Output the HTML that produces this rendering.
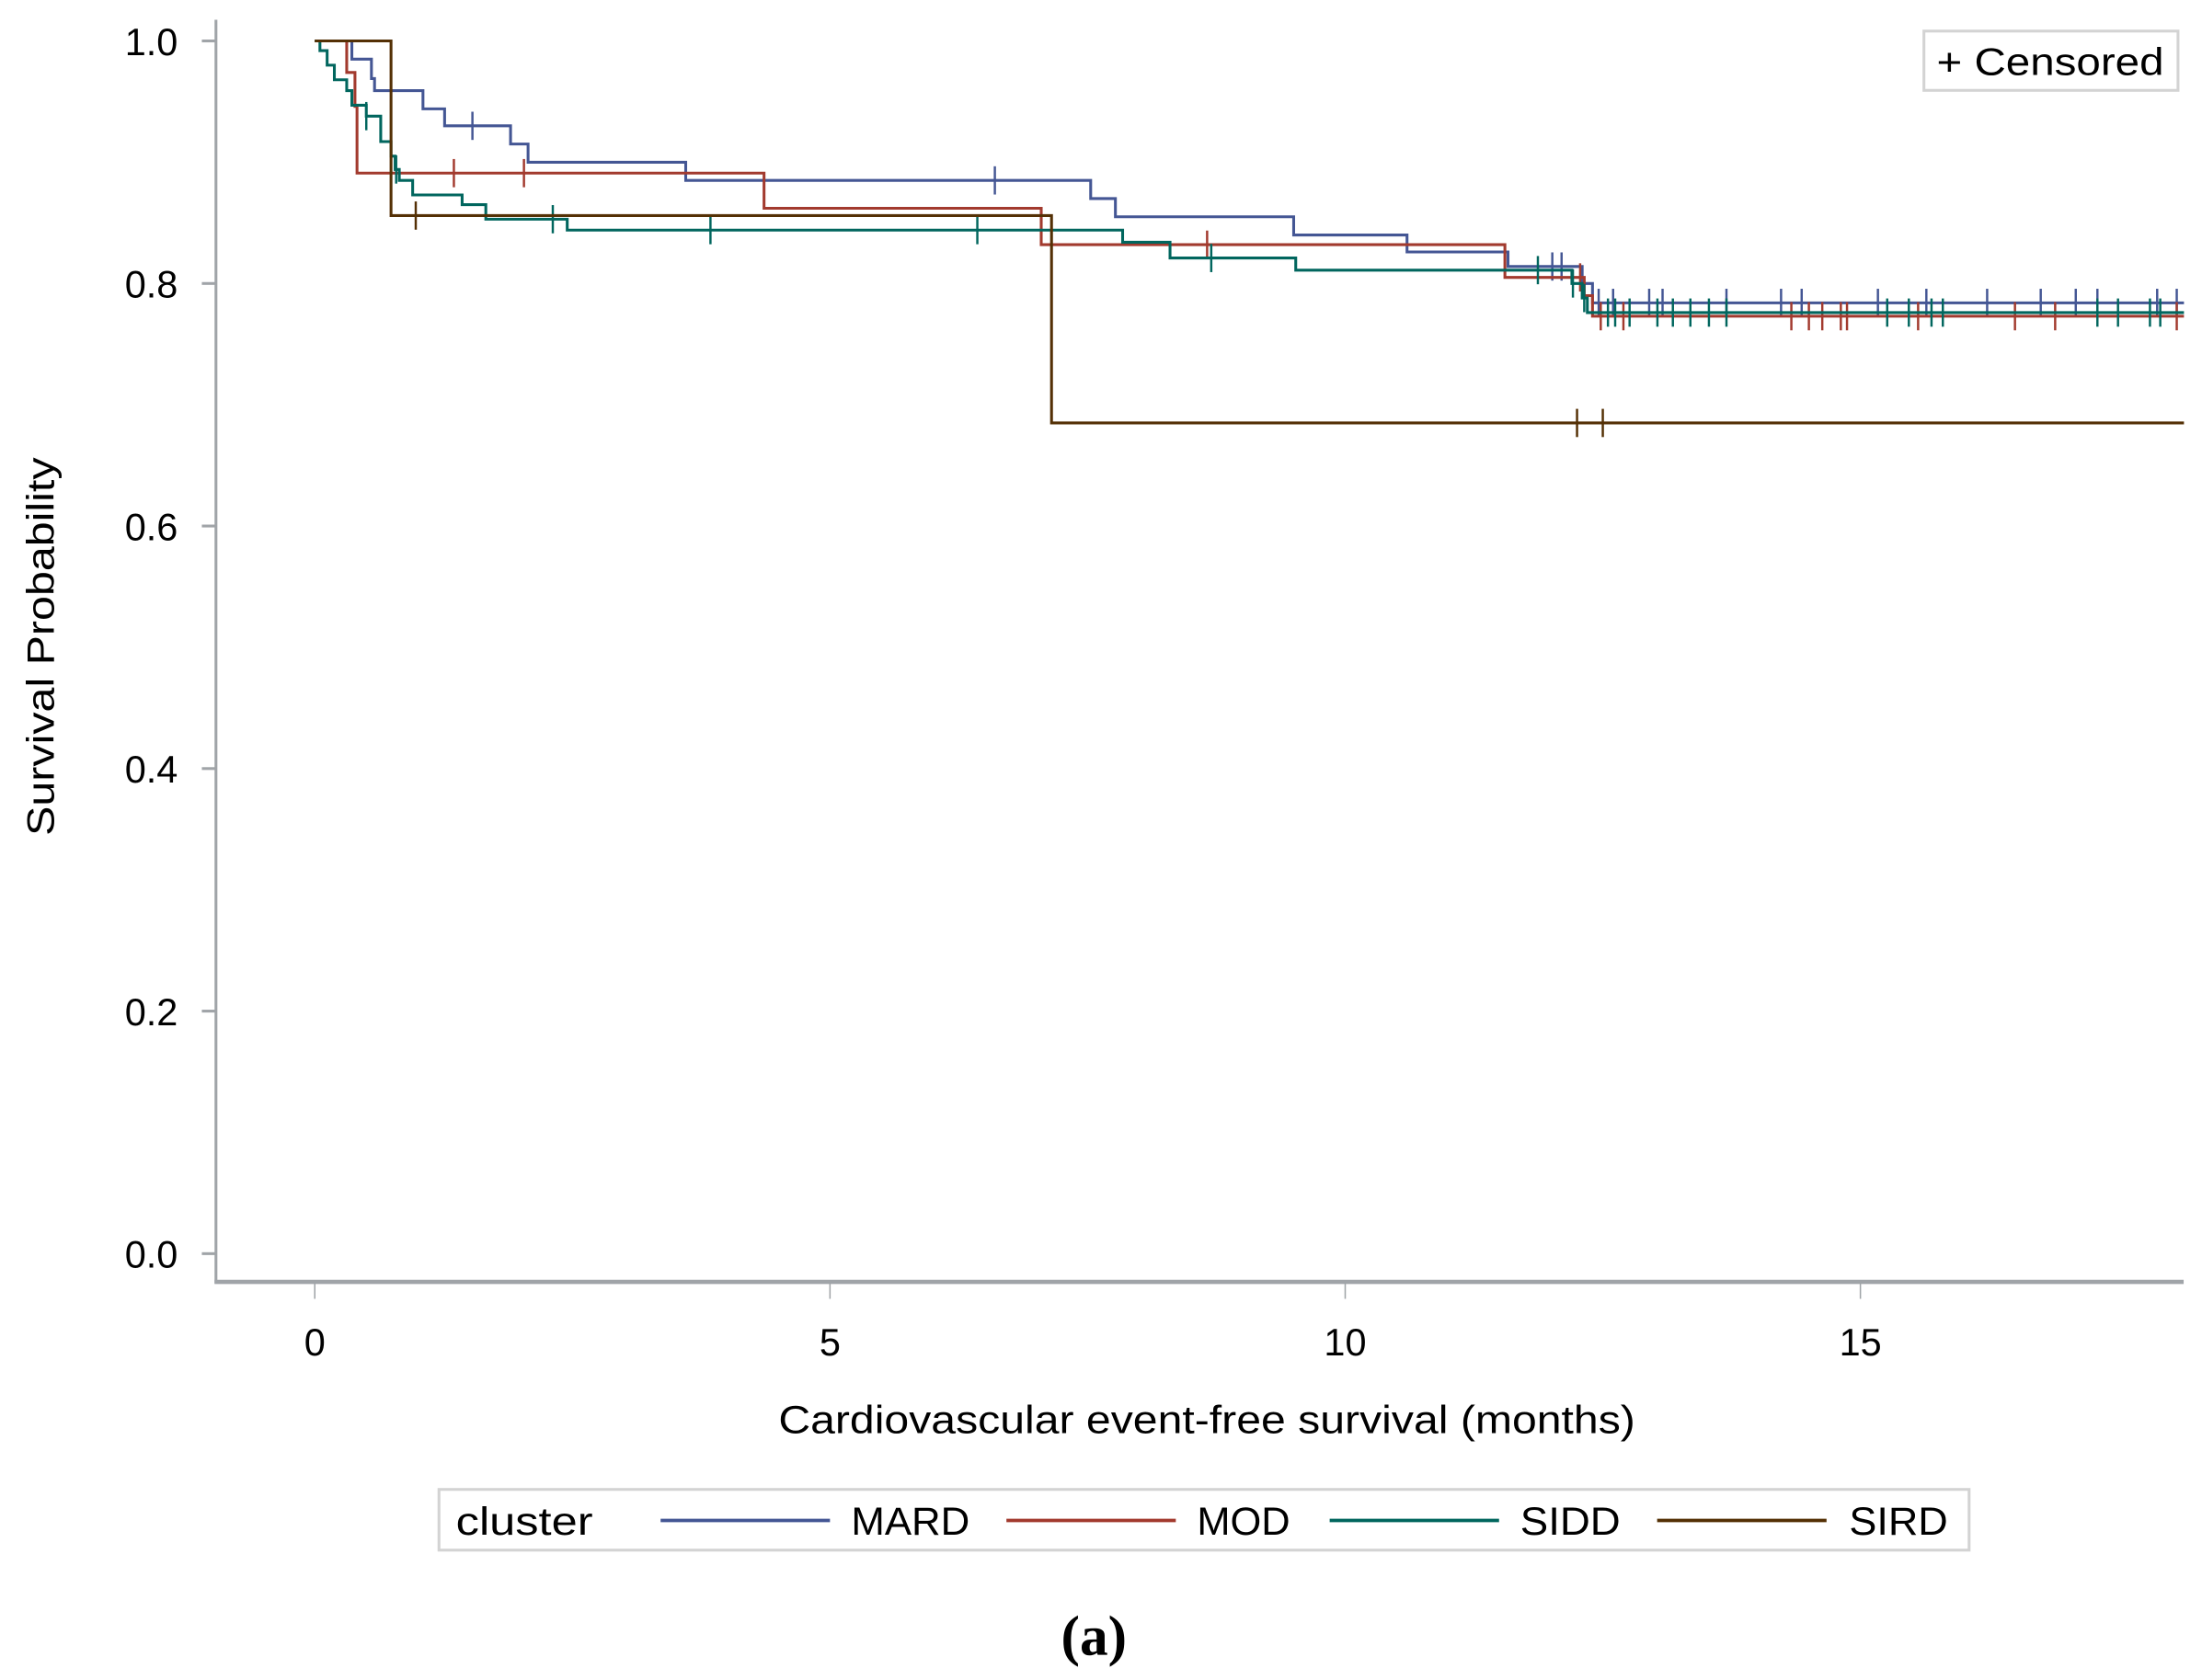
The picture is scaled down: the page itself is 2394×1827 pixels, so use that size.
<!DOCTYPE html>
<html><head><meta charset="utf-8"><style>
html,body{margin:0;padding:0;background:#fff}
svg{display:block}
text{font-family:"Liberation Sans",sans-serif;fill:#000}
</style></head><body>
<svg id="chart" xmlns="http://www.w3.org/2000/svg" width="2394" height="1827" viewBox="0 0 1560 1190" preserveAspectRatio="none">
<g id="axes"></g>
<g id="series"></g>
<text transform="translate(38,458) rotate(-90)" text-anchor="middle" font-size="27" textLength="268" lengthAdjust="spacingAndGlyphs">Survival Probability</text>
<text x="855" y="1015" text-anchor="middle" font-size="28" textLength="607" lengthAdjust="spacingAndGlyphs">Cardiovascular event-free survival (months)</text>
<g>
<rect x="1363" y="22" width="180" height="42" fill="#fff" stroke="#d3d3d3" stroke-width="2"/>
<text x="1372" y="53" font-size="27" textLength="161" lengthAdjust="spacingAndGlyphs">+ Censored</text>
</g>
<g>
<rect x="311" y="1055" width="1084" height="43" fill="#fff" stroke="#d3d3d3" stroke-width="2"/>
<text x="323" y="1087" font-size="28" textLength="97" lengthAdjust="spacingAndGlyphs">cluster</text>
<line x1="468" y1="1077" x2="588" y2="1077" stroke="#445694" stroke-width="2.5"/>
<text x="603" y="1087" font-size="28" textLength="84" lengthAdjust="spacingAndGlyphs">MARD</text>
<line x1="713" y1="1077" x2="833" y2="1077" stroke="#A23A2E" stroke-width="2.5"/>
<text x="848" y="1087" font-size="28" textLength="66" lengthAdjust="spacingAndGlyphs">MOD</text>
<line x1="942" y1="1077" x2="1062" y2="1077" stroke="#01665E" stroke-width="2.5"/>
<text x="1077" y="1087" font-size="28" textLength="71" lengthAdjust="spacingAndGlyphs">SIDD</text>
<line x1="1174" y1="1077" x2="1294" y2="1077" stroke="#543005" stroke-width="2.5"/>
<text x="1310" y="1087" font-size="28" textLength="70" lengthAdjust="spacingAndGlyphs">SIRD</text>
</g>
<text x="775" y="1172" text-anchor="middle" font-size="40" font-weight="bold" style="font-family:'Liberation Serif',serif">(a)</text>
</svg>
<script>
const xTicks=[0,5,10,15];
const yTicks=[0,0.2,0.4,0.6,0.8,1.0];
const yTickLabels=["0.0","0.2","0.4","0.6","0.8","1.0"];
const seriesNames=["MARD","MOD","SIDD","SIRD"];
const seriesColors=["#445694","#A23A2E","#01665E","#543005"];
const mardTimes=[0,0.36,0.55,0.58,1.05,1.26,1.90,2.07,3.60,7.53,7.77,9.5,10.6,11.58,12.3,12.4];
const mardSurv=[1,0.985,0.969,0.959,0.944,0.930,0.915,0.900,0.885,0.870,0.855,0.840,0.826,0.814,0.800,0.784];
const mardCens=[1.53,6.6,12.01,12.1,12.46,12.60,12.95,13.08,13.70,14.23,14.43,15.17,15.64,16.23,16.75,17.09,17.30,17.88,18.07];
const modTimes=[0,0.31,0.39,0.41,4.36,7.05,11.55,12.32,12.4];
const modSurv=[1,0.974,0.946,0.891,0.862,0.832,0.805,0.79,0.773];
const modCens=[1.35,2.03,8.66,12.28,12.48,12.70,14.33,14.50,14.63,14.81,14.87,15.56,16.50,16.89,18.07];
const siddTimes=[0,0.05,0.12,0.19,0.31,0.36,0.50,0.64,0.74,0.78,0.82,0.95,1.43,1.66,2.45,7.84,8.3,9.52,12.2,12.3,12.35];
const siddSurv=[1,0.992,0.980,0.968,0.959,0.947,0.938,0.917,0.905,0.894,0.885,0.873,0.865,0.853,0.844,0.834,0.821,0.811,0.80,0.788,0.776];
const siddCens=[0.50,0.79,2.31,3.84,6.43,8.7,11.87,12.21,12.32,12.55,12.62,12.76,13.03,13.18,13.35,13.53,13.70,15.26,15.47,15.69,15.80,17.30,17.50,17.81,17.91];
const sirdTimes=[0,0.74,7.15];
const sirdSurv=[1,0.856,0.685];
const sirdCens=[0.98,12.25,12.50];
const tMax=18.14;

const NS="http://www.w3.org/2000/svg";
const X=t=>223+t*73;
const Y=v=>888-v*859;
function mk(tag,attrs,parent){const e=document.createElementNS(NS,tag);for(const k in attrs)e.setAttribute(k,attrs[k]);parent.appendChild(e);return e;}
const axes=document.getElementById('axes');
let l=mk('line',{x1:153,y1:14,x2:153,y2:909,stroke:'#a0a4a8','stroke-width':2},axes);


l=mk('line',{x1:152,y1:908,x2:1547,y2:908,stroke:'#a0a4a8','stroke-width':3},axes);


yTicks.forEach((v,i)=>{
  const tk=mk('line',{x1:143,y1:Y(v),x2:153,y2:Y(v),stroke:'#a0a4a8','stroke-width':2},axes);
  
  
  const tx=mk('text',{x:126,y:Y(v)+10,'text-anchor':'end','font-size':27},axes);
  
  
  tx.textContent=yTickLabels[i];
});
xTicks.forEach(t=>{
  const tk=mk('line',{x1:X(t),y1:909,x2:X(t),y2:920,stroke:'#a0a4a8','stroke-width':1},axes);
  
  
  const tx=mk('text',{x:X(t),y:960,'text-anchor':'middle','font-size':27},axes);
  
  
  tx.textContent=String(t);
});
const ser=document.getElementById('series');
const all=[[mardTimes,mardSurv,mardCens],[modTimes,modSurv,modCens],[siddTimes,siddSurv,siddCens],[sirdTimes,sirdSurv,sirdCens]];
function survAt(times,surv,t){let s=surv[0];for(let i=0;i<times.length;i++){if(times[i]<=t)s=surv[i];}return s;}
all.forEach(([times,surv,cens],si)=>{
  const g=mk('g',{},ser);
  
  
  let d='M'+X(times[0])+','+Y(surv[0]);
  for(let i=1;i<times.length;i++){d+=' H'+X(times[i])+' V'+Y(surv[i]);}
  d+=' H'+X(tMax);
  const p=mk('path',{d:d,fill:'none',stroke:seriesColors[si],'stroke-width':2},g);
  
  
  cens.forEach(t=>{
    const y=Y(survAt(times,surv,t));
    const c=mk('line',{x1:X(t),y1:y-10,x2:X(t),y2:y+10,stroke:seriesColors[si],'stroke-width':1.6},g);
    
    
  });
});
</script>
</body></html>
